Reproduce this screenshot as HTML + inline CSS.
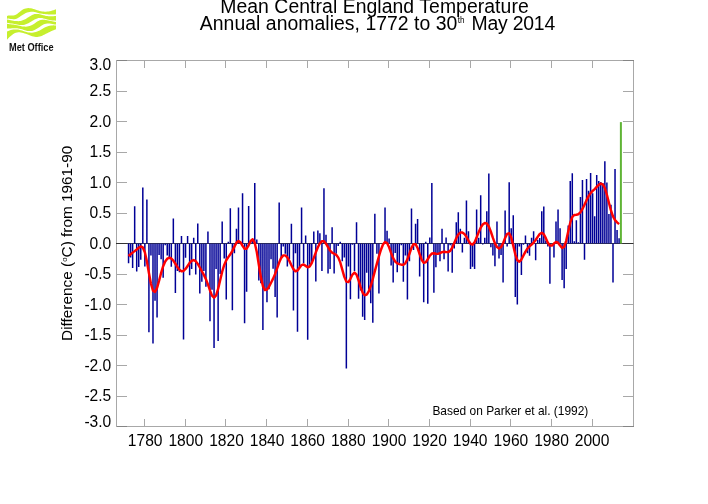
<!DOCTYPE html>
<html><head><meta charset="utf-8"><title>Mean Central England Temperature</title>
<style>
html,body{margin:0;padding:0;background:#fff;}
svg{display:block;font-family:"Liberation Sans",sans-serif;}
</style></head>
<body>
<svg width="708" height="504" viewBox="0 0 708 504">
<rect width="708" height="504" fill="#fff"/>
<g id="logo"><path fill="#c6ef2e" d="M7.0 15.9L8.3 15.6L9.5 15.5L10.8 15.5L12.0 15.5L13.3 15.4L14.5 15.2L15.8 14.8L17.1 14.0L18.3 13.1L19.6 12.1L20.8 11.0L22.1 10.1L23.3 9.3L24.6 8.8L25.8 8.4L27.1 8.2L28.4 8.1L29.6 8.2L30.9 8.3L32.1 8.6L33.4 8.9L34.6 9.3L35.9 9.7L37.2 10.2L38.4 10.6L39.7 11.0L40.9 11.3L42.2 11.5L43.4 11.6L44.7 11.7L45.9 11.7L47.2 11.6L48.5 11.4L49.7 11.2L51.0 10.9L52.2 10.6L53.5 10.2L54.7 9.7L56.0 9.2L56.0 14.3L54.7 14.4L53.5 14.5L52.2 14.6L51.0 14.5L49.7 14.5L48.5 14.4L47.2 14.3L45.9 14.2L44.7 14.1L43.4 14.0L42.2 13.8L40.9 13.6L39.7 13.4L38.4 13.0L37.2 12.7L35.9 12.3L34.6 12.0L33.4 11.8L32.1 11.7L30.9 11.8L29.6 11.9L28.4 12.2L27.1 12.6L25.8 13.1L24.6 13.7L23.3 14.4L22.1 15.2L20.8 16.1L19.6 17.0L18.3 17.8L17.1 18.5L15.8 18.9L14.5 19.2L13.3 19.2L12.0 19.1L10.8 18.9L9.5 18.8L8.3 18.6L7.0 18.7Z"/><path fill="#c6ef2e" d="M7.0 19.5L8.3 19.7L9.5 19.9L10.8 20.2L12.0 20.4L13.3 20.7L14.5 20.9L15.8 21.1L17.1 21.1L18.3 21.2L19.6 21.1L20.8 20.9L22.1 20.6L23.3 20.1L24.6 19.5L25.8 18.9L27.1 18.1L28.4 17.3L29.6 16.5L30.9 15.7L32.1 15.0L33.4 14.4L34.6 14.0L35.9 13.9L37.2 13.9L38.4 14.1L39.7 14.3L40.9 14.6L42.2 15.0L43.4 15.3L44.7 15.6L45.9 15.9L47.2 16.1L48.5 16.2L49.7 16.3L51.0 16.3L52.2 16.3L53.5 16.2L54.7 16.1L56.0 15.9L56.0 20.7L54.7 20.6L53.5 20.5L52.2 20.4L51.0 20.2L49.7 20.0L48.5 19.7L47.2 19.4L45.9 19.1L44.7 18.8L43.4 18.4L42.2 18.1L40.9 17.9L39.7 17.9L38.4 18.1L37.2 18.5L35.9 19.0L34.6 19.6L33.4 20.3L32.1 21.0L30.9 21.8L29.6 22.5L28.4 23.2L27.1 23.8L25.8 24.3L24.6 24.7L23.3 24.9L22.1 25.0L20.8 25.0L19.6 24.9L18.3 24.7L17.1 24.5L15.8 24.2L14.5 24.0L13.3 23.8L12.0 23.6L10.8 23.4L9.5 23.2L8.3 22.9L7.0 22.7Z"/><path fill="#c6ef2e" d="M7.0 23.8L8.3 24.0L9.5 24.2L10.8 24.3L12.0 24.5L13.3 24.6L14.5 24.8L15.8 25.0L17.1 25.3L18.3 25.5L19.6 25.8L20.8 26.1L22.1 26.4L23.3 26.5L24.6 26.6L25.8 26.7L27.1 26.6L28.4 26.3L29.6 26.0L30.9 25.5L32.1 24.9L33.4 24.2L34.6 23.4L35.9 22.5L37.2 21.6L38.4 20.9L39.7 20.3L40.9 19.9L42.2 19.7L43.4 19.7L44.7 19.8L45.9 20.0L47.2 20.2L48.5 20.4L49.7 20.7L51.0 20.9L52.2 21.2L53.5 21.4L54.7 21.7L56.0 21.9L56.0 24.6L54.7 24.4L53.5 24.2L52.2 24.0L51.0 23.7L49.7 23.5L48.5 23.5L47.2 23.5L45.9 23.7L44.7 24.0L43.4 24.6L42.2 25.3L40.9 26.1L39.7 26.9L38.4 27.7L37.2 28.6L35.9 29.3L34.6 30.0L33.4 30.5L32.1 30.9L30.9 31.1L29.6 31.1L28.4 31.1L27.1 30.9L25.8 30.5L24.6 30.2L23.3 29.7L22.1 29.3L20.8 29.0L19.6 28.7L18.3 28.5L17.1 28.3L15.8 28.2L14.5 28.2L13.3 28.2L12.0 28.3L10.8 28.4L9.5 28.5L8.3 28.6L7.0 28.6Z"/><path fill="#c6ef2e" d="M7.0 31.4L8.3 30.9L9.5 30.4L10.8 30.1L12.0 29.8L13.3 29.6L14.5 29.4L15.8 29.4L17.1 29.5L18.3 29.6L19.6 29.9L20.8 30.2L22.1 30.5L23.3 30.9L24.6 31.4L25.8 31.8L27.1 32.2L28.4 32.4L29.6 32.6L30.9 32.7L32.1 32.7L33.4 32.5L34.6 32.3L35.9 32.0L37.2 31.6L38.4 31.1L39.7 30.5L40.9 29.7L42.2 29.0L43.4 28.2L44.7 27.5L45.9 26.9L47.2 26.4L48.5 26.0L49.7 25.7L51.0 25.5L52.2 25.4L53.5 25.3L54.7 25.4L56.0 25.4L56.0 29.2L54.7 29.7L53.5 30.2L52.2 30.7L51.0 31.3L49.7 31.9L48.5 32.5L47.2 33.2L45.9 33.8L44.7 34.5L43.4 35.1L42.2 35.7L40.9 36.2L39.7 36.6L38.4 36.8L37.2 36.9L35.9 36.9L34.6 36.8L33.4 36.5L32.1 36.2L30.9 35.7L29.6 35.3L28.4 34.8L27.1 34.3L25.8 33.8L24.6 33.4L23.3 33.0L22.1 32.7L20.8 32.4L19.6 32.3L18.3 32.3L17.1 32.4L15.8 32.8L14.5 33.3L13.3 34.0L12.0 34.9L10.8 35.9L9.5 37.1L8.3 38.3L7.0 39.7Z"/><text x="9" y="51" font-size="10.4px" font-weight="bold" textLength="44.5" lengthAdjust="spacingAndGlyphs" fill="#111">Met Office</text></g>
<text x="220.2" y="13.4" font-size="19.4px" textLength="308.5" lengthAdjust="spacing">Mean Central England Temperature</text><text x="199.8" y="29.5" font-size="19.4px" id="t2" textLength="257.6" lengthAdjust="spacing">Annual anomalies, 1772 to 30</text><text x="457.8" y="23.3" font-size="8.2px">th</text><text x="471.6" y="29.5" font-size="19.4px" textLength="83.6" lengthAdjust="spacing">May 2014</text>
<path d="M116.5 60.5H633.5V426.5H116.5ZM116.5 91.00h10.5M633.5 91.00h-10.5M116.5 121.50h10.5M633.5 121.50h-10.5M116.5 152.00h10.5M633.5 152.00h-10.5M116.5 182.50h10.5M633.5 182.50h-10.5M116.5 213.00h10.5M633.5 213.00h-10.5M116.5 243.50h10.5M633.5 243.50h-10.5M116.5 274.00h10.5M633.5 274.00h-10.5M116.5 304.50h10.5M633.5 304.50h-10.5M116.5 335.00h10.5M633.5 335.00h-10.5M116.5 365.50h10.5M633.5 365.50h-10.5M116.5 396.00h10.5M633.5 396.00h-10.5M144.50 426.5v-7.5M144.50 60.5v7.5M185.50 426.5v-7.5M185.50 60.5v7.5M225.50 426.5v-7.5M225.50 60.5v7.5M266.50 426.5v-7.5M266.50 60.5v7.5M307.50 426.5v-7.5M307.50 60.5v7.5M348.50 426.5v-7.5M348.50 60.5v7.5M388.50 426.5v-7.5M388.50 60.5v7.5M429.50 426.5v-7.5M429.50 60.5v7.5M470.50 426.5v-7.5M470.50 60.5v7.5M510.50 426.5v-7.5M510.50 60.5v7.5M551.50 426.5v-7.5M551.50 60.5v7.5M592.50 426.5v-7.5M592.50 60.5v7.5" stroke="#a8a8a8" stroke-width="1" fill="none" shape-rendering="crispEdges"/>
<path d="M116.5 60.5h10.5M633.5 60.5h-10.5M116.5 426.5h10.5M633.5 426.5h-10.5" stroke="#858585" stroke-width="1" fill="none" shape-rendering="crispEdges"/>
<path d="M116.0 243.50H633.5" stroke="#1c1c1c" stroke-width="0.85" fill="none"/>
<path d="M128.56 243.50V263.33M130.60 243.50V257.53M132.63 243.50V267.90M134.67 243.50V206.29M136.70 243.50V271.56M138.74 243.50V266.99M140.78 243.50V259.66M142.81 243.50V187.38M144.85 243.50V266.50M146.88 243.50V199.58M148.92 243.50V332.25M150.95 243.50V255.39M152.99 243.50V343.54M155.02 243.50V300.84M157.06 243.50V317.55M159.09 243.50V255.09M161.13 243.50V259.36M163.16 243.50V277.66M165.20 243.50V245.33M167.24 243.50V255.39M169.27 243.50V258.14M171.31 243.50V266.68M173.34 243.50V218.49M175.38 243.50V292.91M177.41 243.50V270.95M179.45 243.50V272.17M181.48 243.50V235.88M183.52 243.50V339.57M185.55 243.50V257.84M187.59 243.50V235.88M189.63 243.50V275.22M191.66 243.50V269.12M193.70 243.50V237.64M195.73 243.50V274.61M197.77 243.50V223.61M199.80 243.50V293.52M201.84 243.50V281.69M203.87 243.50V270.95M205.91 243.50V286.81M207.94 243.50V231.61M209.98 243.50V321.28M212.02 243.50V289.86M214.05 243.50V348.05M216.09 243.50V268.88M218.12 243.50V341.10M220.16 243.50V274.00M222.19 243.50V221.42M224.23 243.50V258.45M226.26 243.50V299.44M228.30 243.50V241.67M230.33 243.50V208.36M232.37 243.50V310.29M234.41 243.50V253.26M236.44 243.50V228.68M238.48 243.50V207.39M240.51 243.50V244.11M242.55 243.50V193.36M244.58 243.50V323.29M246.62 243.50V291.69M248.65 243.50V205.98M250.69 243.50V240.45M252.72 243.50V240.45M254.76 243.50V183.11M256.79 243.50V239.41M258.83 243.50V280.59M260.87 243.50V283.15M262.90 243.50V330.12M264.94 243.50V289.86M266.97 243.50V302.37M269.01 243.50V289.25M271.04 243.50V259.36M273.08 243.50V268.82M275.11 243.50V296.88M277.15 243.50V317.49M279.18 243.50V202.45M281.22 243.50V258.14M283.26 243.50V246.55M285.29 243.50V253.87M287.33 243.50V266.38M289.36 243.50V259.36M291.40 243.50V223.67M293.43 243.50V310.60M295.47 243.50V253.26M297.50 243.50V331.83M299.54 243.50V267.90M301.57 243.50V207.51M303.61 243.50V263.33M305.65 243.50V235.57M307.68 243.50V339.76M309.72 243.50V264.85M311.75 243.50V262.41M313.79 243.50V231.61M315.82 243.50V281.44M317.86 243.50V230.39M319.89 243.50V233.13M321.93 243.50V270.95M323.96 243.50V188.36M326.00 243.50V234.78M328.04 243.50V273.57M330.07 243.50V269.12M332.11 243.50V227.21M334.14 243.50V273.57M336.18 243.50V253.87M338.21 243.50V245.94M340.25 243.50V241.67M342.28 243.50V261.19M344.32 243.50V257.53M346.35 243.50V368.55M348.39 243.50V266.38M350.42 243.50V299.32M352.46 243.50V244.72M354.50 243.50V270.95M356.53 243.50V222.15M358.57 243.50V298.64M360.60 243.50V290.47M362.64 243.50V316.70M364.67 243.50V319.93M366.71 243.50V272.66M368.74 243.50V288.95M370.78 243.50V303.28M372.81 243.50V322.80M374.85 243.50V213.73M376.89 243.50V253.87M378.92 243.50V293.52M385.03 243.50V207.51M387.06 243.50V230.69M389.10 243.50V238.62M391.13 243.50V265.46M393.17 243.50V282.54M395.20 243.50V252.96M397.24 243.50V272.17M399.28 243.50V263.02M401.31 243.50V245.33M403.35 243.50V281.75M405.38 243.50V255.39M407.42 243.50V299.50M409.45 243.50V261.19M411.49 243.50V208.61M413.52 243.50V249.91M415.56 243.50V223.67M417.59 243.50V219.10M419.63 243.50V276.44M421.66 243.50V258.75M423.70 243.50V302.30M425.74 243.50V241.67M427.77 243.50V303.77M429.81 243.50V237.40M431.84 243.50V183.11M433.88 243.50V292.67M435.91 243.50V267.29M437.95 243.50V254.48M439.98 243.50V261.19M442.02 243.50V228.86M444.05 243.50V259.36M446.09 243.50V237.40M448.13 243.50V271.56M450.16 243.50V245.33M452.20 243.50V272.66M454.23 243.50V248.38M456.27 243.50V222.15M458.30 243.50V212.27M460.34 243.50V228.68M462.37 243.50V252.41M464.41 243.50V237.83M466.44 243.50V200.62M468.48 243.50V231.30M470.52 243.50V269.12M472.55 243.50V266.68M474.59 243.50V269.12M476.62 243.50V209.58M478.66 243.50V237.83M480.69 243.50V195.31M482.73 243.50V244.41M484.76 243.50V237.64M486.80 243.50V211.17M488.83 243.50V173.41M490.87 243.50V247.16M492.91 243.50V255.39M494.94 243.50V266.31M496.98 243.50V221.54M499.01 243.50V258.45M501.05 243.50V255.09M503.08 243.50V282.54M505.12 243.50V210.56M507.15 243.50V246.55M509.19 243.50V182.19M511.22 243.50V228.13M513.26 243.50V215.26M515.29 243.50V297.06M517.33 243.50V304.50M519.37 243.50V246.55M521.40 243.50V275.04M523.44 243.50V244.72M525.47 243.50V235.57M527.51 243.50V253.26M529.54 243.50V255.70M531.58 243.50V237.64M533.61 243.50V231.30M535.65 243.50V260.34M537.68 243.50V239.84M539.72 243.50V238.01M541.76 243.50V211.29M543.79 243.50V206.59M545.83 243.50V240.45M547.86 243.50V246.55M549.90 243.50V283.76M553.97 243.50V257.53M556.00 243.50V221.54M558.04 243.50V209.58M560.07 243.50V228.13M562.11 243.50V280.10M564.15 243.50V288.21M566.18 243.50V269.12M568.22 243.50V225.44M570.25 243.50V180.91M572.29 243.50V173.23M574.32 243.50V241.30M576.36 243.50V220.20M578.39 243.50V242.28M580.43 243.50V196.90M582.46 243.50V179.88M584.50 243.50V259.66M586.54 243.50V179.08M588.57 243.50V190.80M590.61 243.50V173.11M592.64 243.50V193.30M594.68 243.50V216.36M596.71 243.50V174.94M598.75 243.50V181.10M600.78 243.50V182.07M602.82 243.50V183.11M604.85 243.50V161.27M606.89 243.50V182.50M608.92 243.50V214.04M610.96 243.50V204.70M613.00 243.50V282.54M615.03 243.50V169.08M617.07 243.50V229.90M619.10 243.50V238.32" stroke="#000096" stroke-width="1.5" fill="none"/>
<path d="M620.89 243.50V122.11" stroke="#5fb435" stroke-width="2" fill="none"/>
<polyline points="128.56,255.95 130.60,254.23 132.63,252.62 134.67,251.12 136.70,249.51 138.74,247.71 140.78,246.46 142.81,247.41 144.85,252.27 146.88,261.37 148.92,272.94 150.95,283.75 152.99,290.63 155.02,291.89 157.06,287.93 159.09,280.78 161.13,272.92 163.16,266.22 165.20,261.47 167.24,258.72 169.27,257.78 171.31,258.50 173.34,260.65 175.38,263.76 177.41,267.10 179.45,269.86 181.48,271.30 183.52,270.98 185.55,268.97 187.59,265.96 189.63,262.93 191.66,260.76 193.70,260.08 195.73,261.18 197.77,263.88 199.80,267.51 201.84,271.27 203.87,274.95 205.91,279.13 207.94,284.42 209.98,290.47 212.02,295.63 214.05,297.75 216.09,295.43 218.12,288.98 220.16,280.27 222.19,271.69 224.23,264.90 226.26,260.27 228.30,257.11 230.33,254.29 232.37,250.84 234.41,246.64 236.44,242.76 238.48,240.99 240.51,242.37 242.55,245.89 244.58,248.81 246.62,248.69 248.65,245.29 250.69,240.99 252.72,239.31 254.76,242.90 256.79,252.08 258.83,264.68 260.87,277.12 262.90,286.10 264.94,290.10 266.97,289.66 269.01,286.62 271.04,282.73 273.08,278.63 275.11,273.95 277.15,268.37 279.18,262.55 281.22,257.85 283.26,255.39 285.29,255.36 287.33,257.36 289.36,260.86 291.40,265.21 293.43,269.22 295.47,271.29 297.50,270.50 299.54,267.69 301.57,265.08 303.61,264.53 305.65,265.89 307.68,267.23 309.72,266.49 311.75,263.09 313.79,257.92 315.82,252.31 317.86,247.22 319.89,243.28 321.93,241.15 323.96,241.32 326.00,243.68 328.04,247.20 330.07,250.50 332.11,252.66 334.14,253.76 336.18,254.85 338.21,257.39 340.25,262.40 342.28,269.56 344.32,276.88 346.35,281.62 348.39,282.05 350.42,278.79 352.46,274.55 354.50,272.55 356.53,274.62 358.57,280.26 360.60,287.15 362.64,292.68 364.67,295.24 366.71,294.62 368.74,291.27 370.78,285.80 372.81,278.84 374.85,271.18 376.89,263.56 378.92,256.31 380.96,249.70 382.99,244.48 385.03,241.96 387.06,243.06 389.10,247.34 391.13,253.08 393.17,258.24 395.20,261.63 397.24,263.33 399.28,264.14 401.31,264.65 403.35,264.65 405.38,263.17 407.42,259.44 409.45,253.78 411.49,247.92 413.52,244.16 415.56,244.16 417.59,247.99 419.63,254.03 421.66,259.72 423.70,262.80 425.74,262.36 427.77,259.30 429.81,255.73 431.84,253.56 433.88,253.25 435.91,253.79 437.95,253.89 439.98,253.14 442.02,252.17 444.05,251.76 446.09,252.01 448.13,252.10 450.16,250.89 452.20,247.74 454.23,243.06 456.27,238.17 458.30,234.45 460.34,232.54 462.37,232.42 464.41,233.89 466.44,236.80 468.48,240.58 470.52,243.78 472.55,244.64 474.59,242.30 476.62,237.56 478.66,232.18 480.69,227.64 482.73,224.53 484.76,223.03 486.80,223.55 488.83,226.55 490.87,231.75 492.91,237.90 494.94,243.39 496.98,247.08 499.01,248.41 501.05,247.09 503.08,243.25 505.12,238.04 507.15,233.83 509.19,233.24 511.22,237.56 513.26,245.64 515.29,254.31 517.33,260.24 519.37,261.78 521.40,259.57 523.44,255.55 525.47,251.57 527.51,248.50 529.54,246.33 531.58,244.56 533.61,242.60 535.65,240.02 537.68,236.86 539.72,233.97 541.76,232.75 543.79,234.26 545.83,238.18 547.86,242.69 549.90,245.52 551.93,245.53 553.97,243.59 556.00,242.01 558.04,242.72 560.07,245.56 562.11,248.01 564.15,246.89 566.18,240.83 568.22,231.55 570.25,222.65 572.29,216.99 574.32,214.95 576.36,214.75 578.39,214.23 580.43,212.29 582.46,208.93 584.50,204.67 586.54,200.17 588.57,196.13 590.61,193.07 592.64,190.91 594.68,189.05 596.71,186.98 598.75,184.86 600.78,183.60 602.82,184.42 604.85,188.18 606.89,194.74 608.92,202.80 610.96,210.46 613.00,216.31 615.03,220.09 617.07,222.42 619.10,224.12" stroke="#ff0000" stroke-width="2.45" fill="none" stroke-linejoin="round" stroke-linecap="butt"/>
<g font-size="15.6px" fill="#000"><text x="111.3" y="70.1" text-anchor="end">3.0</text><text x="111.3" y="96.2" text-anchor="end">2.5</text><text x="111.3" y="126.7" text-anchor="end">2.0</text><text x="111.3" y="157.2" text-anchor="end">1.5</text><text x="111.3" y="187.7" text-anchor="end">1.0</text><text x="111.3" y="218.2" text-anchor="end">0.5</text><text x="111.3" y="248.7" text-anchor="end">0.0</text><text x="111.3" y="279.2" text-anchor="end">-0.5</text><text x="111.3" y="309.7" text-anchor="end">-1.0</text><text x="111.3" y="340.2" text-anchor="end">-1.5</text><text x="111.3" y="370.7" text-anchor="end">-2.0</text><text x="111.3" y="401.2" text-anchor="end">-2.5</text><text x="111.3" y="426.7" text-anchor="end">-3.0</text><text x="145.2" y="445.7" text-anchor="middle">1780</text><text x="185.8" y="445.7" text-anchor="middle">1800</text><text x="226.5" y="445.7" text-anchor="middle">1820</text><text x="267.1" y="445.7" text-anchor="middle">1840</text><text x="307.7" y="445.7" text-anchor="middle">1860</text><text x="348.3" y="445.7" text-anchor="middle">1880</text><text x="389.0" y="445.7" text-anchor="middle">1900</text><text x="429.6" y="445.7" text-anchor="middle">1920</text><text x="470.2" y="445.7" text-anchor="middle">1940</text><text x="510.9" y="445.7" text-anchor="middle">1960</text><text x="551.5" y="445.7" text-anchor="middle">1980</text><text x="592.1" y="445.7" text-anchor="middle">2000</text></g>
<text transform="translate(72.3 340.9) rotate(-90)" font-size="15.35px" id="yl">Difference (<tspan font-size="8px" dy="-5.5">o</tspan><tspan dy="5.5">C) from 1961-90</tspan></text>
<text x="432.4" y="414.8" font-size="11.95px" id="pk">Based on Parker et al. (1992)</text>
</svg>
</body></html>
